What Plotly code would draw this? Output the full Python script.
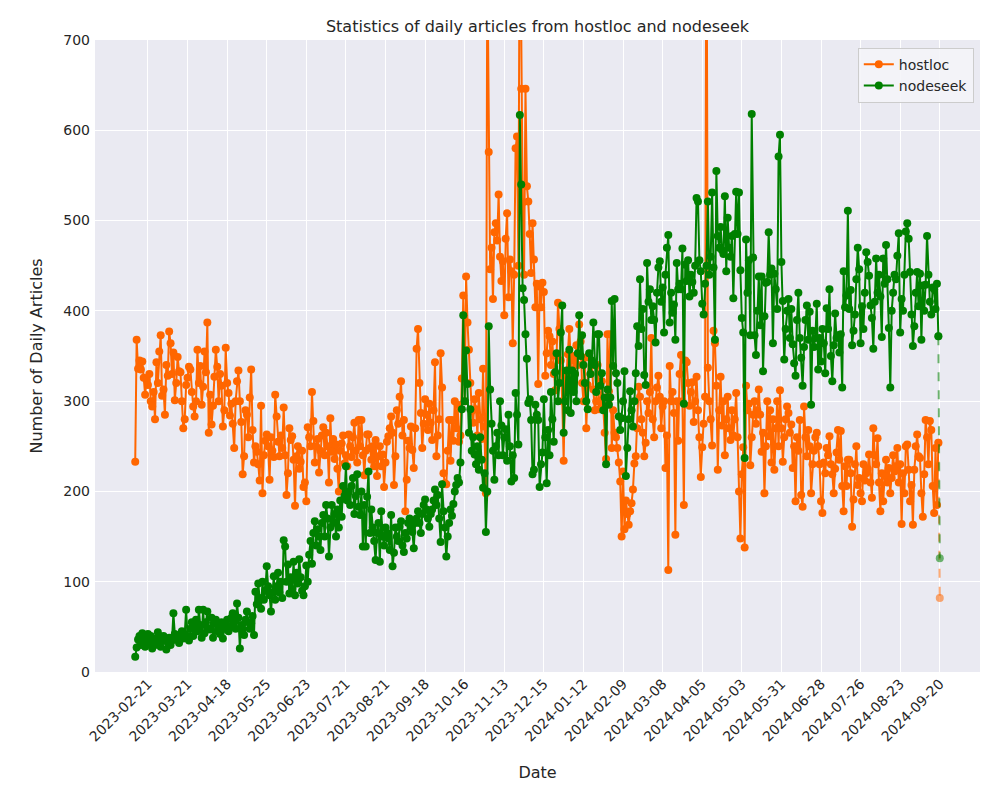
import plotly.graph_objects as go

tick_labels = ["2023-02-21", "2023-03-21", "2023-04-18", "2023-05-25", "2023-06-23",
               "2023-07-21", "2023-08-21", "2023-09-18", "2023-10-16", "2023-11-13",
               "2023-12-15", "2024-01-12", "2024-02-09", "2024-03-08", "2024-04-05",
               "2024-05-03", "2024-05-31", "2024-06-28", "2024-07-26", "2024-08-23",
               "2024-09-20"]
first_tick_index = 9
tick_step = 28

hostloc = [
    233, 368, 336, 345, 335, 344, 326, 307, 324, 318,
    330, 300, 294, 310, 280, 343, 320, 355, 373, 306,
    313, 285, 340, 328, 377, 364, 330, 354, 301, 320,
    349, 333, 332, 300, 270, 280, 318, 326, 338, 335,
    310, 294, 283, 300, 357, 320, 339, 296, 316, 355,
    332, 387, 265, 307, 274, 295, 327, 357, 338, 300,
    330, 317, 272, 290, 359, 320, 309, 284, 297, 275,
    248, 300, 322, 334, 300, 277, 219, 239, 290, 285,
    260, 304, 335, 268, 232, 250, 244, 230, 212, 295,
    198, 240, 256, 263, 250, 213, 260, 245, 238, 307,
    283, 255, 239, 262, 248, 293, 240, 196, 220, 270,
    257, 261, 235, 184, 239, 250, 225, 233, 245, 205,
    210, 189, 271, 260, 250, 310, 278, 232, 250, 258,
    221, 245, 262, 271, 240, 265, 250, 210, 281, 244,
    258, 236, 252, 225, 200, 245, 253, 262, 231, 240,
    228, 263, 250, 238, 260, 276, 245, 232, 279, 250,
    279, 240, 218, 245, 263, 263, 248, 235, 250, 228,
    257, 217, 239, 250, 228, 241, 205, 232, 255, 261,
    270, 283, 265, 207, 239, 290, 275, 305, 322, 262,
    279, 178, 213, 256, 248, 272, 246, 226, 270, 358,
    380, 320, 287, 248, 275, 302, 285, 268, 297, 276,
    257, 290, 343, 239, 262, 280, 353, 315, 220, 209,
    208, 245, 279, 234, 279, 256, 300, 270, 296, 255,
    262, 325, 417, 300, 438, 387, 357, 320, 289, 276,
    302, 291, 262, 309, 280, 258, 336, 272, 198, 800,
    576, 446, 470, 413, 487, 497, 478, 529, 460, 433,
    455, 395, 480, 508, 415, 457, 444, 364, 440, 580,
    593, 450, 900, 646, 520, 440, 646, 538, 521, 485,
    442, 497, 457, 404, 430, 319, 427, 404, 431, 421,
    328, 353, 378, 372, 340, 366, 330, 312, 350, 409,
    380, 345, 300, 234, 320, 328, 352, 380, 345, 313,
    350, 330, 362, 340, 385, 366, 320, 300, 348, 270,
    318, 350, 330, 340, 313, 290, 300, 340, 291, 300,
    322, 295, 265, 236, 374, 311, 374, 248, 290, 265,
    260, 248, 232, 211, 150, 222, 158, 190, 175, 163,
    178, 187, 202, 231, 239, 270, 316, 305, 280, 265,
    239, 254, 300, 287, 310, 370, 280, 260, 300, 315,
    328, 305, 270, 294, 300, 226, 262, 113, 339, 300,
    310, 287, 152, 300, 256, 330, 351, 300, 185, 345,
    343, 320, 295, 310, 321, 277, 300, 327, 290, 260,
    216, 249, 275, 305, 900, 337, 300, 280, 251, 378,
    364, 317, 224, 290, 327, 273, 300, 240, 280, 305,
    270, 257, 290, 262, 280, 309, 260, 200, 148, 219,
    249, 138, 317, 290, 297, 229, 260, 285, 300, 275,
    290, 313, 285, 244, 265, 198, 250, 300, 261, 290,
    232, 280, 224, 270, 300, 250, 312, 270, 233, 260,
    280, 294, 287, 265, 274, 226, 250, 189, 260, 245,
    279, 196, 183, 294, 260, 239, 268, 250, 198, 230,
    245, 260, 265, 250, 230, 189, 176, 232, 220, 248,
    240, 261, 230, 219, 198, 225, 243, 268, 235, 267,
    206, 178, 228, 206, 235, 235, 220, 161, 191, 230,
    250, 207, 215, 198, 189, 230, 212, 220, 225, 241,
    210, 193, 270, 240, 230, 259, 210, 178, 220, 189,
    217, 235, 210, 226, 198, 215, 240, 222, 228, 248,
    210, 230, 164, 220, 198, 250, 252, 224, 189, 207,
    163, 224, 250, 263, 239, 237, 198, 172, 219, 279,
    260, 230, 278, 268, 206, 176, 248, 185, 254, 82,
]

nodeseek = [
    17, 27, 36, 40, 30, 43, 35, 28, 38, 42,
    33, 40, 26, 35, 30, 37, 44, 31, 28, 38,
    40, 35, 25, 33, 38, 30, 35, 65, 42, 36,
    40, 32, 38, 45, 37, 42, 69, 40, 35, 48,
    55, 40, 50, 58, 45, 69, 52, 38, 69, 43,
    55, 67, 48, 47, 60, 38, 55, 58, 45, 50,
    42, 55, 37, 48, 52, 58, 45, 50, 60, 65,
    55, 48, 76, 60, 26, 52, 47, 41, 58, 67,
    55, 48, 54, 62, 41, 89, 75, 98, 82, 70,
    100, 80, 90, 117, 95, 85, 67, 88, 106, 80,
    95, 110, 88, 100, 82, 146, 139, 100, 119, 87,
    105, 92, 122, 85, 110, 98, 125, 105, 90, 85,
    95, 118, 100, 130, 145, 120, 154, 167, 140, 158,
    150, 135, 165, 174, 150, 185, 170, 128, 160, 185,
    165, 175, 150, 180, 160, 190, 172, 206, 195, 228,
    190, 200, 185, 206, 215, 175, 195, 219, 183, 174,
    200, 139, 185, 139, 194, 222, 154, 180, 160, 145,
    124, 154, 165, 122, 178, 150, 140, 160, 154, 148,
    135, 174, 117, 132, 160, 150, 145, 161, 167, 140,
    133, 154, 148, 165, 170, 160, 155, 137, 165, 170,
    178, 165, 154, 175, 185, 191, 180, 170, 161, 175,
    180, 190, 202, 185, 196, 170, 144, 208, 178, 160,
    128, 150, 165, 180, 173, 186, 200, 207, 215, 210,
    232, 291, 395, 300, 356, 319, 265, 291, 245, 260,
    241, 230, 250, 224, 260, 235, 204, 220, 155, 200,
    383, 313, 275, 245, 213, 250, 265, 240, 300, 273,
    240, 260, 269, 234, 285, 250, 211, 240, 215, 309,
    285, 252, 617, 540, 425, 412, 374, 347, 298, 302,
    279, 219, 224, 296, 285, 279, 205, 230, 243, 302,
    260, 209, 268, 240, 310, 280, 255, 332, 353, 300,
    320, 376, 406, 265, 300, 334, 290, 357, 287, 334,
    310, 330, 300, 353, 395, 350, 373, 340, 320, 300,
    291, 353, 330, 345, 387, 340, 310, 374, 374, 317,
    331, 290, 304, 230, 313, 296, 304, 411, 339, 413,
    331, 320, 283, 268, 281, 300, 333, 217, 248, 280,
    311, 290, 272, 300, 331, 383, 361, 435, 380, 402,
    329, 318, 453, 410, 424, 390, 405, 390, 365, 420,
    448, 455, 410, 426, 376, 440, 470, 484, 387, 420,
    398, 407, 368, 453, 424, 430, 424, 469, 297, 451,
    433, 456, 416, 440, 432, 420, 450, 525, 521, 456,
    444, 408, 396, 430, 450, 521, 440, 460, 531, 448,
    368, 555, 483, 470, 493, 467, 463, 527, 444, 503,
    470, 460, 483, 414, 485, 532, 485, 531, 445, 392,
    376, 237, 479, 420, 456, 373, 618, 459, 373, 351,
    400, 438, 384, 438, 333, 394, 431, 432, 487, 440,
    447, 364, 441, 424, 402, 571, 595, 454, 411, 346,
    380, 400, 413, 370, 402, 363, 342, 328, 390, 420,
    370, 348, 317, 360, 390, 406, 368, 399, 296, 378,
    360, 370, 408, 335, 370, 344, 380, 364, 331, 403,
    380, 424, 350, 322, 362, 397, 370, 373, 354, 374,
    315, 444, 404, 417, 511, 402, 423, 362, 378, 396,
    435, 470, 446, 364, 405, 380, 420, 465, 454, 439,
    406, 392, 358, 410, 458, 420, 440, 416, 371, 458,
    430, 473, 435, 381, 315, 400, 420, 440, 435, 461,
    486, 376, 413, 400, 440, 488, 497, 480, 443, 396,
    361, 383, 420, 443, 405, 441, 368, 428, 400, 429,
    483, 440, 410, 396, 426, 424, 402, 430, 372, 126,
]

ORANGE = "#FF6600"
GREEN = "#008000"
FONT = "DejaVu Sans"
TEXT = "#262626"

fig = go.Figure()

series = [("hostloc", hostloc, ORANGE, "rgba(255,102,0,0.55)"),
          ("nodeseek", nodeseek, GREEN, "rgba(0,128,0,0.55)")]

for name, vals, col, _ in series:
    n = len(vals)
    xs = list(range(n - 1))
    fig.add_trace(go.Scatter(
        x=xs, y=vals[:n - 1], mode="lines+markers", name=name,
        line=dict(color=col, width=2),
        marker=dict(color=col, size=8, symbol="circle"),
    ))

for name, vals, col, faded in series:
    n = len(vals)
    fig.add_trace(go.Scatter(
        x=[n - 2, n - 1], y=vals[n - 2:], mode="lines+markers", showlegend=False,
        line=dict(color=faded, width=2, dash="dash"),
        marker=dict(color=faded, size=8, symbol="circle"),
    ))

n_points = len(hostloc)
tickvals = [first_tick_index + tick_step * k for k in range(len(tick_labels))]
pad = 0.05 * (n_points - 1)

fig.update_layout(
    width=1000, height=800,
    paper_bgcolor="white", plot_bgcolor="#EAEAF2",
    margin=dict(l=87, r=28, t=32, b=136, autoexpand=False),
    font=dict(family=FONT, color=TEXT, size=14),
    title=dict(text="Statistics of daily articles from hostloc and nodeseek",
               x=0.5, xref="paper", xanchor="center", y=0.977, yanchor="middle",
               font=dict(size=16, color=TEXT, family=FONT)),
    showlegend=True,
    legend=dict(x=0.993, y=0.988, xanchor="right", yanchor="top",
                bgcolor="rgba(244,244,248,0.9)", bordercolor="#CCCCCC", borderwidth=1,
                font=dict(size=14, color=TEXT, family=FONT)),
    xaxis=dict(
        range=[-pad, (n_points - 1) + pad],
        tickmode="array", tickvals=tickvals, ticktext=tick_labels,
        tickangle=-45, showgrid=True, gridcolor="white", gridwidth=1.2,
        zeroline=False, showline=False, ticks="",
        tickfont=dict(size=14, color=TEXT, family=FONT),
        title=dict(text="Date", font=dict(size=16, color=TEXT, family=FONT), standoff=23),
    ),
    yaxis=dict(
        range=[0, 700], tickmode="array", tickvals=list(range(0, 701, 100)),
        showgrid=True, gridcolor="white", gridwidth=1.2,
        zeroline=False, showline=False, ticks="", ticklabelstandoff=4,
        tickfont=dict(size=14, color=TEXT, family=FONT),
        title=dict(text="Number of Daily Articles", font=dict(size=16, color=TEXT, family=FONT),
                   standoff=16),
    ),
)

fig.write_html("out.html")
